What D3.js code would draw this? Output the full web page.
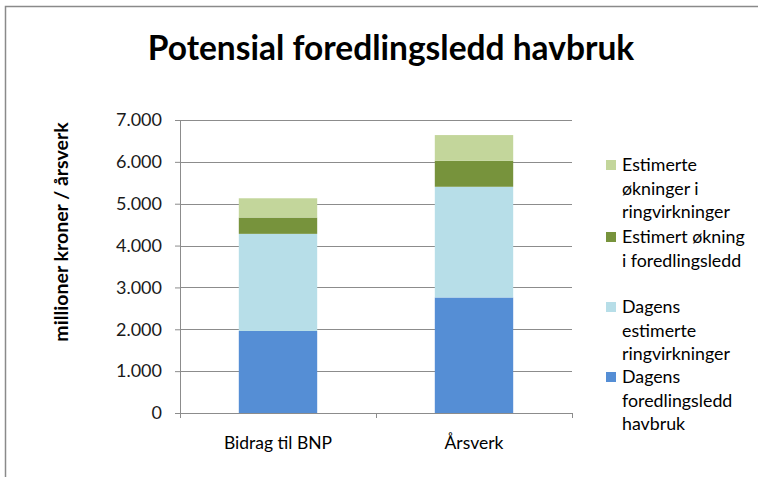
<!DOCTYPE html>
<html>
<head>
<meta charset="utf-8">
<script src="https://cdn.jsdelivr.net/npm/d3@7"></script>
<style>
    body { margin: 0; background: #fff; }
    svg text { font-family: Lato, "Open Sans", sans-serif; fill: #000; }
</style>
</head>
<body>
<div id="chart"></div>
<script>
/*
    Chart data
*/
var categories = ["Bidrag til BNP", "Årsverk"];
var seriesNames = [
    "Dagens foredlingsledd havbruk",
    "Dagens estimerte ringvirkninger",
    "Estimert økning i foredlingsledd",
    "Estimerte økninger i ringvirkninger"
];
var dagensForedling = [1960, 2760];
var dagensRingvirkning = [2320, 2645];
var estimertForedling = [390, 620];
var estimertRingvirkning = [460, 615];
var yTicks = [0, 1000, 2000, 3000, 4000, 5000, 6000, 7000];

var colors = ["#558ed5", "#b7dee8", "#77933c", "#c3d69b"];
/*
    Legend text split in lines as in the original
*/
var legendLines = [
    ["Dagens", "foredlingsledd", "havbruk"],
    ["Dagens", "estimerte", "ringvirkninger"],
    ["Estimert økning", "i foredlingsledd"],
    ["Estimerte", "økninger i", "ringvirkninger"]
];
var legendY = [377, 307, 237, 165];

var realW = 758, realH = 477,
    margin = { top: 120, right: 186, bottom: 64, left: 180 },
    w = realW - margin.left - margin.right,
    h = realH - margin.top - margin.bottom;

var svg = d3.select("#chart").append("svg")
    .attr("width", realW)
    .attr("height", realH);

// outer frame
svg.append("rect")
    .attr("x", 5.5).attr("y", 6.5)
    .attr("width", realW).attr("height", realH)
    .style("fill", "none")
    .style("stroke", "#8a8a8a")
    .style("stroke-width", 1.5);

svg.append("text")
    .attr("x", 391).attr("y", 60)
    .attr("text-anchor", "middle")
    .style("font-weight", "bold")
    .style("font-size", "33.5px")
    .text("Potensial foredlingsledd havbruk");

var g = svg.append("g")
    .attr("transform", "translate(" + margin.left + "," + margin.top + ")");

var x = d3.scaleBand().domain(categories).range([0, w]).paddingInner(0.6).paddingOuter(0.3);
var xOuter = d3.scaleBand().domain(categories).range([0, w]);
var y = d3.scaleLinear().domain([0, 7000]).range([h, 0]);

var fmt = function (d) { return d === 0 ? "0" : d3.format(",")(d).replace(/,/g, "."); };

// gridlines
g.append("g")
    .selectAll("line")
    .data(yTicks.filter(function (d) { return d > 0; }))
    .enter()
    .append("line")
    .attr("x1", 0).attr("x2", w)
    .attr("y1", function (d) { return Math.round(y(d)) + 0.5; })
    .attr("y2", function (d) { return Math.round(y(d)) + 0.5; })
    .style("stroke", "#8c8c8c")
    .style("stroke-width", 1.2);

// stacked bars
var table = categories.map(function (c, i) {
    return {
        cat: c,
        s0: dagensForedling[i],
        s1: dagensRingvirkning[i],
        s2: estimertForedling[i],
        s3: estimertRingvirkning[i]
    };
});
var stack = d3.stack().keys(["s0", "s1", "s2", "s3"])(table);

g.append("g")
    .selectAll("g")
    .data(stack)
    .enter()
    .append("g")
    .style("fill", function (d, i) { return colors[i]; })
    .selectAll("rect")
    .data(function (d) { return d; })
    .enter()
    .append("rect")
    .attr("x", function (d) { return x(d.data.cat); })
    .attr("width", x.bandwidth())
    .attr("y", function (d) { return y(d[1]); })
    .attr("height", function (d) { return y(d[0]) - y(d[1]); });

// y axis
var yAxis = d3.axisLeft(y).tickValues(yTicks).tickFormat(fmt).tickSize(5).tickPadding(13);
var ya = g.append("g").call(yAxis);
ya.selectAll("path, line").style("stroke", "#8c8c8c");
ya.selectAll("text").style("font-size", "18px").style("font-family", "Lato, sans-serif").style("fill", "#1a1a1a");
ya.select(".domain").attr("d", "M0.5," + y(7000) + "V" + h);

// x axis
var xa = g.append("g").attr("transform", "translate(0," + h + ")");
xa.append("line")
    .attr("x1", 0).attr("x2", w).attr("y1", 0.5).attr("y2", 0.5)
    .style("stroke", "#8c8c8c");
xa.selectAll(".tk")
    .data([0].concat(categories.map(function (c) { return xOuter(c) + xOuter.bandwidth(); })))
    .enter()
    .append("line")
    .attr("x1", function (d) { return d + 0.5; })
    .attr("x2", function (d) { return d + 0.5; })
    .attr("y1", 0).attr("y2", 5)
    .style("stroke", "#8c8c8c");
xa.selectAll("text")
    .data(categories)
    .enter()
    .append("text")
    .attr("x", function (d) { return x(d) + x.bandwidth() / 2; })
    .attr("y", 36)
    .attr("text-anchor", "middle")
    .style("font-size", "17.5px")
    .text(function (d) { return d; });

// y label
svg.append("text")
    .attr("transform", "translate(68,232) rotate(-90)")
    .attr("text-anchor", "middle")
    .style("font-weight", "bold")
    .style("font-size", "19.5px")
    .text("millioner kroner / årsverk");

// legend
var legend = svg.append("g").selectAll("g")
    .data(seriesNames)
    .enter()
    .append("g")
    .attr("transform", function (d, i) { return "translate(606," + legendY[i] + ")"; });
legend.append("rect")
    .attr("x", 0).attr("y", -5)
    .attr("width", 10).attr("height", 10)
    .style("fill", function (d, i) { return colors[i]; });
legend.append("text")
    .attr("x", 16)
    .attr("y", 6)
    .style("font-size", "17.8px")
    .selectAll("tspan")
    .data(function (d, i) { return legendLines[i]; })
    .enter()
    .append("tspan")
    .attr("x", 16)
    .attr("dy", function (d, i) { return i === 0 ? 0 : 23.5; })
    .text(function (d) { return d; });
</script>
</body>
</html>
